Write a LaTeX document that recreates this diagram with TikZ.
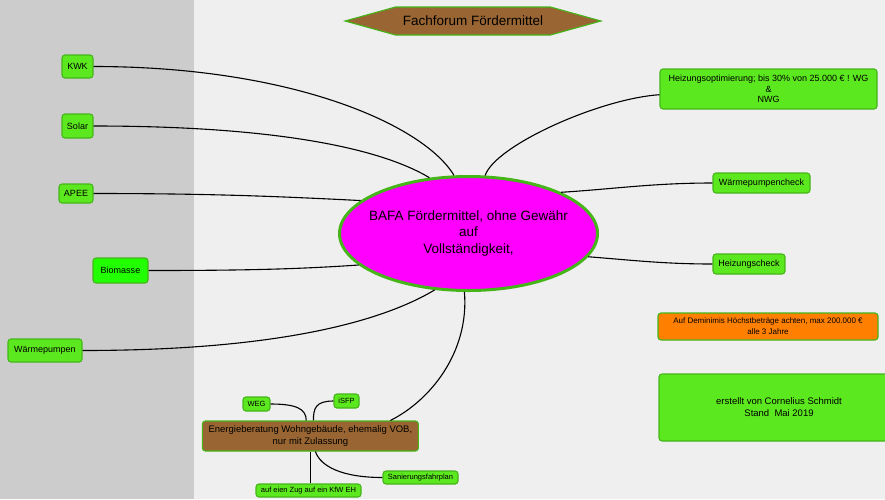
\documentclass[tikz,border=0pt]{standalone}
\usepackage{fontspec}
\setmainfont{Liberation Sans}
\usetikzlibrary{positioning, calc, shapes.geometric, shapes.symbols}

\definecolor{leafgreen}{HTML}{5CE81E}
\definecolor{leafborder}{HTML}{45B51A}
\definecolor{biogreen}{HTML}{22FF00}
\definecolor{hubmagenta}{HTML}{FF00FF}
\definecolor{boxbrown}{HTML}{996633}
\definecolor{noteorange}{HTML}{FF8000}
\definecolor{paneleft}{HTML}{CCCCCC}
\definecolor{paneright}{HTML}{EFEFEF}

\tikzstyle{Link} = [
    black,
    line width = 1.1
]

\begin{document}
\begin{tikzpicture}[
x = 1pt, y = -1pt,
leaf/.style = {
    rectangle,
    rounded corners = 3pt,
    draw = leafborder,
    fill = leafgreen,
    line width = 1.1,
    inner sep = 0pt,
    align = center,
    font = \fontsize{9}{10.5}\selectfont
    },
twig/.style = {
    leaf,
    font = \fontsize{7.5}{9}\selectfont
    },
topic/.style = {
    leaf,
    fill = boxbrown,
    font = \fontsize{9.5}{11.5}\selectfont
    },
hub/.style = {
    ellipse,
    draw = leafborder,
    fill = hubmagenta,
    line width = 3,
    inner xsep = -40pt,
    inner ysep = 0pt,
    align = center,
    font = \fontsize{13.5}{16.5}\selectfont
    },
banner/.style = {
    signal,
    signal to = west and east,
    signal pointer angle = 31,
    draw = leafborder,
    fill = boxbrown,
    line width = 1.1,
    inner sep = 0pt,
    font = \fontsize{13.5}{16}\selectfont
    }
]

% background panes
\fill[paneright] (0,0) rectangle (885,499);
\fill[paneleft] (0,0) rectangle (194,499);
\clip (0,0) rectangle (885,499);

\node [banner, minimum width = 256, minimum height = 28] (title) at (473,21) {Fachforum Fördermittel};

\node [hub, minimum width = 258, minimum height = 114] (bafa) at (468.5,233.5) {
    BAFA Fördermittel, ohne Gewähr\\auf\\Vollständigkeit,
};

% left branch
\node [leaf, minimum width = 31, minimum height = 23] (kwk) at (77.5,66.5) {KWK};
\node [leaf, minimum width = 31, minimum height = 24] (solar) at (77.5,126) {Solar};
\node [leaf, minimum width = 34, minimum height = 19] (apee) at (76,193.5) {APEE};
\node [leaf, fill = biogreen, minimum width = 55, minimum height = 25] (bio) at (120.5,270.5) {Biomasse};
\node [leaf, minimum width = 74, minimum height = 23] (wp) at (45,350.5) {Wärmepumpen};

% right branch
\node [leaf, minimum width = 217, minimum height = 40] (hopt) at (768.5,89) {
    Heizungsoptimierung; bis 30\% von 25.000 € ! WG\\\&\\NWG
};
\node [leaf, minimum width = 97, minimum height = 20] (wpc) at (761.5,183) {Wärmepumpencheck};
\node [leaf, minimum width = 72, minimum height = 20] (hc) at (749,264) {Heizungscheck};
\node [leaf, fill = noteorange, minimum width = 220, minimum height = 27,
       font = \fontsize{8}{11}\selectfont] (demin) at (768,326.5) {
    Auf Deminimis Höchstbeträge achten, max 200.000 €\\alle 3 Jahre
};
\node [leaf, minimum width = 240, minimum height = 67,
       font = \fontsize{9.5}{12}\selectfont] (credit) at (779,407.5) {
    erstellt von Cornelius Schmidt\\Stand\ \ Mai 2019
};

% bottom branch
\node [topic, minimum width = 216, minimum height = 30] (ener) at (310.4,436) {
    Energieberatung Wohngebäude, ehemalig VOB,\\nur mit Zulassung
};
\node [twig, minimum width = 27, minimum height = 14] (weg) at (256.5,404) {WEG};
\node [twig, minimum width = 25, minimum height = 14] (isfp) at (346.5,401) {iSFP};
\node [twig, minimum width = 75, minimum height = 13] (sfp) at (420.5,477.5) {Sanierungsfahrplan};
\node [twig, minimum width = 105, minimum height = 13] (zug) at (308.5,490.5) {auf eien Zug auf ein KfW EH};

\draw[Link] (kwk.east) .. controls +(200,0) and +(-30,-50) .. (bafa.104);
\draw[Link] (solar.east) .. controls +(180,0) and +(-50,-30) .. (bafa.125);
\draw[Link] (apee.east) .. controls +(120,0) and +(-80,-4) .. (bafa.163);
\draw[Link] (bio.east) .. controls +(100,0) and +(-60,4) .. (bafa.196);
\draw[Link] (wp.east) .. controls +(200,0) and +(-50,30) .. (bafa.239);

\draw[Link] (hopt.183) .. controls +(-60,4) and +(10,-30) .. (bafa.74);
\draw[Link] (wpc.west) .. controls +(-60,0) and +(50,-3) .. (bafa.24);
\draw[Link] (hc.west) .. controls +(-50,0) and +(40,3) .. (bafa.-11);

\draw[Link] (ener.11.3) .. controls +(40,-20) and +(5,60) .. (bafa.266);
\draw[Link] (weg.east) .. controls +(25,0) and +(0,-12) .. (ener.105);
\draw[Link] (isfp.west) .. controls +(-18,0) and +(0,-12) .. (ener.79);
\draw[Link] (ener.-72) .. controls +(5,15) and +(-40,0) .. (sfp.west);
\draw[Link] (ener.south) -- (ener.south |- zug.north);

\end{tikzpicture}
\end{document}
